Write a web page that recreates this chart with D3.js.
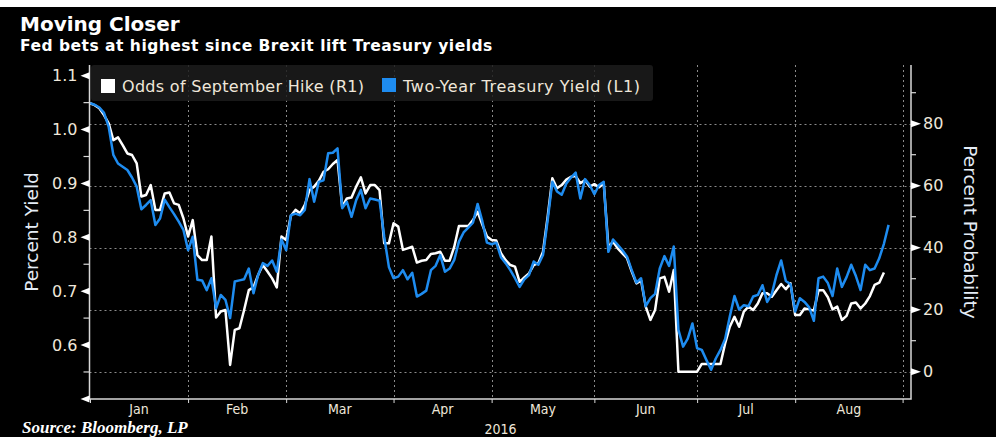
<!DOCTYPE html>
<html>
<head>
<meta charset="utf-8">
<script src="https://cdn.jsdelivr.net/npm/d3@7"></script>
<style>
  body { margin: 0; background: #fff; }
  svg { display: block; }
  text { font-family: "DejaVu Sans", Verdana, sans-serif; }
</style>
</head>
<body>
<div id="chart"></div>
<script>
// business-day index 0 = 1 Jan 2016
var monthStart = [0, 21, 42, 65, 86, 108, 130, 151, 174];
var monthNames = ["Jan", "Feb", "Mar", "Apr", "May", "Jun", "Jul", "Aug"];

// two-year treasury yield (%), one value per business day
var yieldVals = [1.049, 1.046, 1.041, 1.031, 1.005, 0.953, 0.937, 0.931, 0.925, 0.911,
  0.894, 0.852, 0.860, 0.869, 0.823, 0.835, 0.870, 0.856, 0.843, 0.829,
  0.814, 0.776, 0.801, 0.721, 0.720, 0.702, 0.724, 0.668, 0.693, 0.684,
  0.650, 0.718, 0.720, 0.722, 0.742, 0.696, 0.730, 0.752, 0.747, 0.757,
  0.736, 0.796, 0.776, 0.841, 0.844, 0.841, 0.851, 0.908, 0.866, 0.903,
  0.906, 0.956, 0.957, 0.965, 0.854, 0.866, 0.838, 0.869, 0.888, 0.854,
  0.872, 0.870, 0.868, 0.801, 0.745, 0.724, 0.727, 0.739, 0.722, 0.734,
  0.690, 0.695, 0.701, 0.739, 0.747, 0.767, 0.736, 0.742, 0.758, 0.792,
  0.809, 0.818, 0.827, 0.862, 0.830, 0.790, 0.787, 0.790, 0.763, 0.752,
  0.739, 0.724, 0.708, 0.722, 0.730, 0.755, 0.749, 0.767, 0.832, 0.903,
  0.885, 0.879, 0.900, 0.911, 0.920, 0.872, 0.908, 0.897, 0.880, 0.897,
  0.903, 0.773, 0.796, 0.786, 0.776, 0.764, 0.739, 0.716, 0.724, 0.672,
  0.687, 0.695, 0.742, 0.765, 0.747, 0.783, 0.628, 0.597, 0.612, 0.640,
  0.594, 0.591, 0.572, 0.554, 0.575, 0.591, 0.611, 0.653, 0.691, 0.666,
  0.674, 0.672, 0.690, 0.693, 0.711, 0.680, 0.695, 0.730, 0.757, 0.719,
  0.713, 0.662, 0.687, 0.680, 0.670, 0.645, 0.724, 0.727, 0.715, 0.691,
  0.742, 0.708, 0.726, 0.749, 0.728, 0.702, 0.749, 0.739, 0.742, 0.761,
  0.788, 0.823];

// odds of a september hike (%)
var oddsVals = [86.6, 86.0, 85.0, 82.8, 80.1, 74.7, 75.6, 73.1, 70.4, 69.9,
  67.2, 56.5, 57.0, 60.2, 52.2, 52.2, 57.5, 57.8, 54.3, 53.8,
  49.5, 43.6, 48.9, 37.6, 36.0, 36.0, 43.6, 17.5, 19.4, 19.9,
  2.2, 13.5, 14.0, 19.9, 26.3, 27.2, 31.2, 34.4, 32.3, 30.1,
  27.2, 43.6, 42.5, 50.2, 52.2, 51.1, 53.8, 58.6, 59.7, 61.6,
  64.5, 65.3, 67.0, 68.3, 53.2, 55.9, 56.2, 59.7, 62.7, 57.5,
  60.2, 60.2, 58.6, 41.4, 41.4, 47.9, 46.8, 39.3, 39.8, 40.3,
  35.2, 35.8, 36.0, 38.0, 38.2, 38.7, 35.8, 35.8, 40.3, 47.0,
  47.0, 47.0, 48.9, 51.6, 47.5, 43.6, 42.5, 42.3, 38.2, 36.0,
  34.4, 33.9, 29.0, 30.4, 31.7, 34.4, 35.0, 38.7, 50.0, 62.4,
  59.2, 60.2, 62.0, 62.9, 63.1, 60.8, 61.8, 59.7, 60.5, 59.5,
  60.8, 40.3, 41.9, 39.8, 38.2, 36.6, 32.3, 28.5, 29.4, 21.0,
  16.7, 19.9, 30.1, 30.6, 25.8, 32.8, 0, 0, 0, 0,
  0, 2.5, 2.5, 2.5, 2.5, 2.5, 9.1, 14.5, 17.7, 14.5,
  19.4, 21.0, 19.9, 22.0, 25.3, 25.3, 24.2, 26.3, 28.3, 26.6,
  28.5, 18.3, 18.3, 20.4, 20.1, 19.7, 26.3, 26.3, 24.0, 20.1,
  21.0, 16.7, 18.0, 22.0, 22.3, 20.4, 22.0, 24.4, 28.0, 28.7,
  32.0];

var yieldTicks = [0.6, 0.7, 0.8, 0.9, 1.0, 1.1];
var oddsTicks = [0, 20, 40, 60, 80];

var svgW = 996, svgH = 437;
var plotL = 89.5, plotR = 911, plotT = 65, plotB = 399;
var textCol = "#efe7da";
var blue = "#1e8cf0";

var svg = d3.select("#chart").append("svg")
  .attr("width", svgW)
  .attr("height", svgH);

svg.append("rect").attr("width", svgW).attr("height", svgH).attr("fill", "#fff");
svg.append("rect").attr("y", 7).attr("width", svgW).attr("height", svgH - 7).attr("fill", "#000");

// scales
var x = d3.scaleLinear().domain([0, 175.8]).range([90, 911]);
var yL = d3.scaleLinear().domain([0.5, 1.1]).range([398.9, 75.7]);
var yR = d3.scaleLinear().domain([0, 80]).range([371.7, 123.7]);

// titles
svg.append("text").attr("x", 20).attr("y", 31)
  .attr("fill", "#fff").attr("font-weight", "bold").attr("font-size", 20)
  .text("Moving Closer");
svg.append("text").attr("x", 20).attr("y", 51)
  .attr("fill", "#fff").attr("font-weight", "bold").attr("font-size", 15.5)
  .attr("letter-spacing", 0.5)
  .text("Fed bets at highest since Brexit lift Treasury yields");

// gridlines
var grid = svg.append("g").attr("stroke", "#8a8a8a").attr("stroke-dasharray", "2,3").attr("stroke-width", 1);
grid.selectAll(".hg").data(oddsTicks).enter().append("line")
  .attr("x1", plotL).attr("x2", plotR)
  .attr("y1", d => Math.round(yR(d)) + 0.5).attr("y2", d => Math.round(yR(d)) + 0.5);
grid.selectAll(".vg").data(monthStart.slice(1)).enter().append("line")
  .attr("x1", d => Math.round(x(d)) + 0.5).attr("x2", d => Math.round(x(d)) + 0.5)
  .attr("y1", plotT).attr("y2", plotB);

// legend
var lg = svg.append("g");
lg.append("rect").attr("x", 91).attr("y", 65).attr("width", 562).attr("height", 36).attr("rx", 3)
  .attr("fill", "#1c1c1c").attr("fill-opacity", 0.85);
lg.append("rect").attr("x", 101).attr("y", 79).attr("width", 14).attr("height", 14).attr("fill", "#fff");
lg.append("text").attr("x", 122).attr("y", 92).attr("fill", textCol).attr("font-size", 16)
  .attr("letter-spacing", 0.3)
  .text("Odds of September Hike (R1)");
lg.append("rect").attr("x", 382).attr("y", 78).attr("width", 14).attr("height", 14).attr("fill", blue);
lg.append("text").attr("x", 403).attr("y", 92).attr("fill", textCol).attr("font-size", 16)
  .attr("letter-spacing", 0.6)
  .text("Two-Year Treasury Yield (L1)");

// lines
var oddsLine = d3.line().x((d, i) => x(i)).y(d => yR(d));
var yieldLine = d3.line().x((d, i) => x(i)).y(d => yL(d));
svg.append("path").datum(oddsVals).attr("d", oddsLine)
  .attr("fill", "none").attr("stroke", "#fff").attr("stroke-width", 2.5).attr("stroke-linejoin", "round");
svg.append("path").datum(yieldVals).attr("d", yieldLine)
  .attr("fill", "none").attr("stroke", blue).attr("stroke-width", 2.5).attr("stroke-linejoin", "round");

// axes frame
var axCol = "#d8d8d8";
svg.append("path")
  .attr("d", `M${plotL},${plotT}V${plotB}H${plotR}V${plotT}`)
  .attr("fill", "none").attr("stroke", axCol).attr("stroke-width", 1.5);

// left axis: triangles + minor ticks
var leftTri = yieldTicks.concat([0.5]);
svg.selectAll(".ltri").data(leftTri).enter().append("path")
  .attr("d", d => `M${plotL},${yL(d) - 3.5}L${plotL - 9},${yL(d)}L${plotL},${yL(d) + 3.5}Z`)
  .attr("fill", "#fff");
svg.selectAll(".lmin").data([0.55, 0.65, 0.75, 0.85, 0.95, 1.05]).enter().append("line")
  .attr("x1", plotL - 6).attr("x2", plotL)
  .attr("y1", d => yL(d)).attr("y2", d => yL(d))
  .attr("stroke", axCol).attr("stroke-width", 1.2);

var leftAxis = d3.axisLeft(yL).tickValues(yieldTicks).tickFormat(d3.format(".1f")).tickSize(0).tickPadding(12);
var gl = svg.append("g").attr("transform", `translate(${plotL},0)`).call(leftAxis);
gl.select(".domain").remove();
gl.selectAll("text").attr("fill", textCol).attr("font-size", 16).attr("font-family", "DejaVu Sans");

// right axis
svg.selectAll(".rtri").data(oddsTicks).enter().append("path")
  .attr("d", d => `M${plotR},${yR(d) - 3.5}L${plotR + 10},${yR(d)}L${plotR},${yR(d) + 3.5}Z`)
  .attr("fill", "#fff");
svg.selectAll(".rmin").data([10, 30, 50, 70, 90]).enter().append("line")
  .attr("x1", plotR).attr("x2", plotR + 5)
  .attr("y1", d => yR(d)).attr("y2", d => yR(d))
  .attr("stroke", axCol).attr("stroke-width", 1.2);

var rightAxis = d3.axisRight(yR).tickValues(oddsTicks).tickSize(0).tickPadding(12);
var gr = svg.append("g").attr("transform", `translate(${plotR},0)`).call(rightAxis);
gr.select(".domain").remove();
gr.selectAll("text").attr("fill", textCol).attr("font-size", 16).attr("font-family", "DejaVu Sans");

// bottom axis
var bottomAxis = d3.axisBottom(x).tickValues(monthStart).tickSize(4).tickFormat("");
var gb = svg.append("g").attr("transform", `translate(0,${plotB})`).call(bottomAxis);
gb.select(".domain").remove();
gb.selectAll("line").attr("stroke", axCol);

svg.selectAll(".mlab").data(monthNames).enter().append("text")
  .attr("x", (d, i) => x((monthStart[i] + monthStart[i + 1]) / 2))
  .attr("y", 414)
  .attr("text-anchor", "middle")
  .attr("fill", textCol).attr("font-size", 14)
  .style("font-family", "'DejaVu Sans Condensed', 'DejaVu Sans'")
  .style("font-stretch", "condensed")
  .text(d => d);

svg.append("text").attr("x", x(87.9)).attr("y", 434)
  .attr("text-anchor", "middle").attr("fill", textCol).attr("font-size", 14)
  .style("font-family", "'DejaVu Sans Condensed', 'DejaVu Sans'")
  .style("font-stretch", "condensed")
  .text("2016");

// axis titles
svg.append("text")
  .attr("transform", `translate(38, ${(plotT + plotB) / 2}) rotate(-90)`)
  .attr("text-anchor", "middle").attr("fill", "#e4ecf6").attr("font-size", 18.5)
  .text("Percent Yield");
svg.append("text")
  .attr("transform", `translate(964, ${(plotT + plotB) / 2}) rotate(90)`)
  .attr("text-anchor", "middle").attr("fill", "#e4ecf6").attr("font-size", 18.5)
  .text("Percent Probability");

// source
svg.append("text").attr("x", 22).attr("y", 433)
  .attr("fill", "#fff").attr("font-size", 17).attr("font-style", "italic").attr("font-weight", "bold")
  .style("font-family", "'Liberation Serif', 'Times New Roman', serif")
  .text("Source: Bloomberg, LP");
</script>
</body>
</html>
